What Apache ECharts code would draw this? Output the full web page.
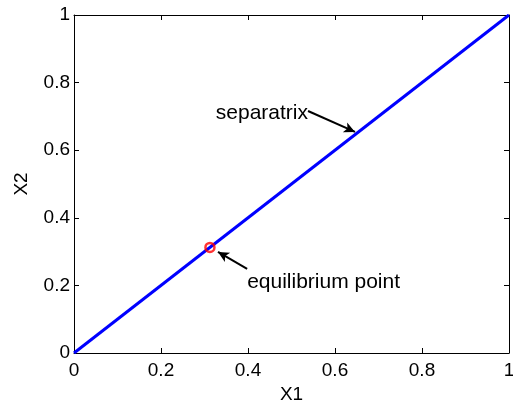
<!DOCTYPE html>
<html>
<head>
<meta charset="utf-8">
<script src="https://cdn.jsdelivr.net/npm/echarts@6/dist/echarts.min.js"></script>
<style>
  html, body { margin: 0; padding: 0; background: #fff; }
  #chart { width: 513px; height: 402px; }
</style>
</head>
<body>
<div id="chart"></div>
<script>
// Phase-plane data
const separatrixX = [0, 1];
const separatrixY = [0, 1];
const equilibrium = [0.3125, 0.3125];
const tickLabels = ['0', '0.2', '0.4', '0.6', '0.8', '1'];

// Annotation arrows: tail, head (data coords) and label anchor
const annoText = ['separatrix', 'equilibrium point'];
const annoTail = [[0.538, 0.716], [0.398, 0.249]];
const annoHead = [[0.646, 0.654], [0.331, 0.299]];
const annoLabelAt = [[0.538, 0.71], [0.398, 0.21]];
const annoAlign = ['right', 'left'];

const FONT = '"Liberation Sans", Arial, Helvetica, sans-serif';
const fmt = v => tickLabels[Math.round(v * 5)];

const chart = echarts.init(document.getElementById('chart'));

const baseAxis = {
  type: 'value', min: 0, max: 1, interval: 0.2,
  axisLine: { show: true, onZero: false, lineStyle: { color: '#000', width: 1 } },
  axisTick: { show: true, inside: true, length: 5, lineStyle: { color: '#000' } },
  splitLine: { show: false }
};

chart.setOption({
  animation: false,
  backgroundColor: '#fff',
  grid: { left: 74, right: 4, top: 15, bottom: 49, containLabel: false, outerBoundsMode: 'none' },
  xAxis: [
    Object.assign({}, baseAxis, {
      position: 'bottom',
      name: 'X1', nameLocation: 'middle', nameGap: 29,
      nameTextStyle: { color: '#000', fontSize: 19, fontFamily: FONT },
      axisLabel: { color: '#000', fontSize: 19, fontFamily: FONT, margin: 8, formatter: fmt }
    }),
    Object.assign({}, baseAxis, { position: 'top', axisLabel: { show: false } })
  ],
  yAxis: [
    Object.assign({}, baseAxis, {
      position: 'left',
      name: 'X2', nameLocation: 'middle', nameGap: 43,
      nameTextStyle: { color: '#000', fontSize: 19, fontFamily: FONT },
      axisLabel: { color: '#000', fontSize: 19, fontFamily: FONT, margin: 4, formatter: fmt }
    }),
    Object.assign({}, baseAxis, { position: 'right', axisLabel: { show: false } })
  ],
  series: [
    {
      type: 'line',
      data: separatrixX.map((x, i) => [x, separatrixY[i]]),
      symbol: 'none',
      lineStyle: { color: '#0000ff', width: 3 },
      z: 2,
      markLine: {
        silent: true,
        symbol: ['none', 'arrow'],
        symbolSize: [8, 11],
        label: { show: false },
        lineStyle: { color: '#000', width: 2, type: 'solid' },
        data: annoTail.map((t, i) => [
          { coord: t },
          { coord: annoHead[i] }
        ])
      }
    },
    {
      type: 'scatter',
      data: [equilibrium],
      symbol: 'circle',
      symbolSize: 9,
      itemStyle: { color: 'rgba(255,255,255,0)', borderColor: '#ff0000', borderWidth: 2.5 },
      z: 3
    }
  ]
});

// Annotation labels placed through the chart's coordinate system
const labels = annoText.map((t, i) => {
  const p = chart.convertToPixel({ xAxisIndex: 0, yAxisIndex: 0 }, annoLabelAt[i]);
  return {
    type: 'text', x: p[0], y: p[1],
    style: {
      text: t, fill: '#000', font: '21px ' + FONT,
      align: annoAlign[i], verticalAlign: 'middle'
    }
  };
});
chart.setOption({ graphic: labels });
</script>
</body>
</html>
